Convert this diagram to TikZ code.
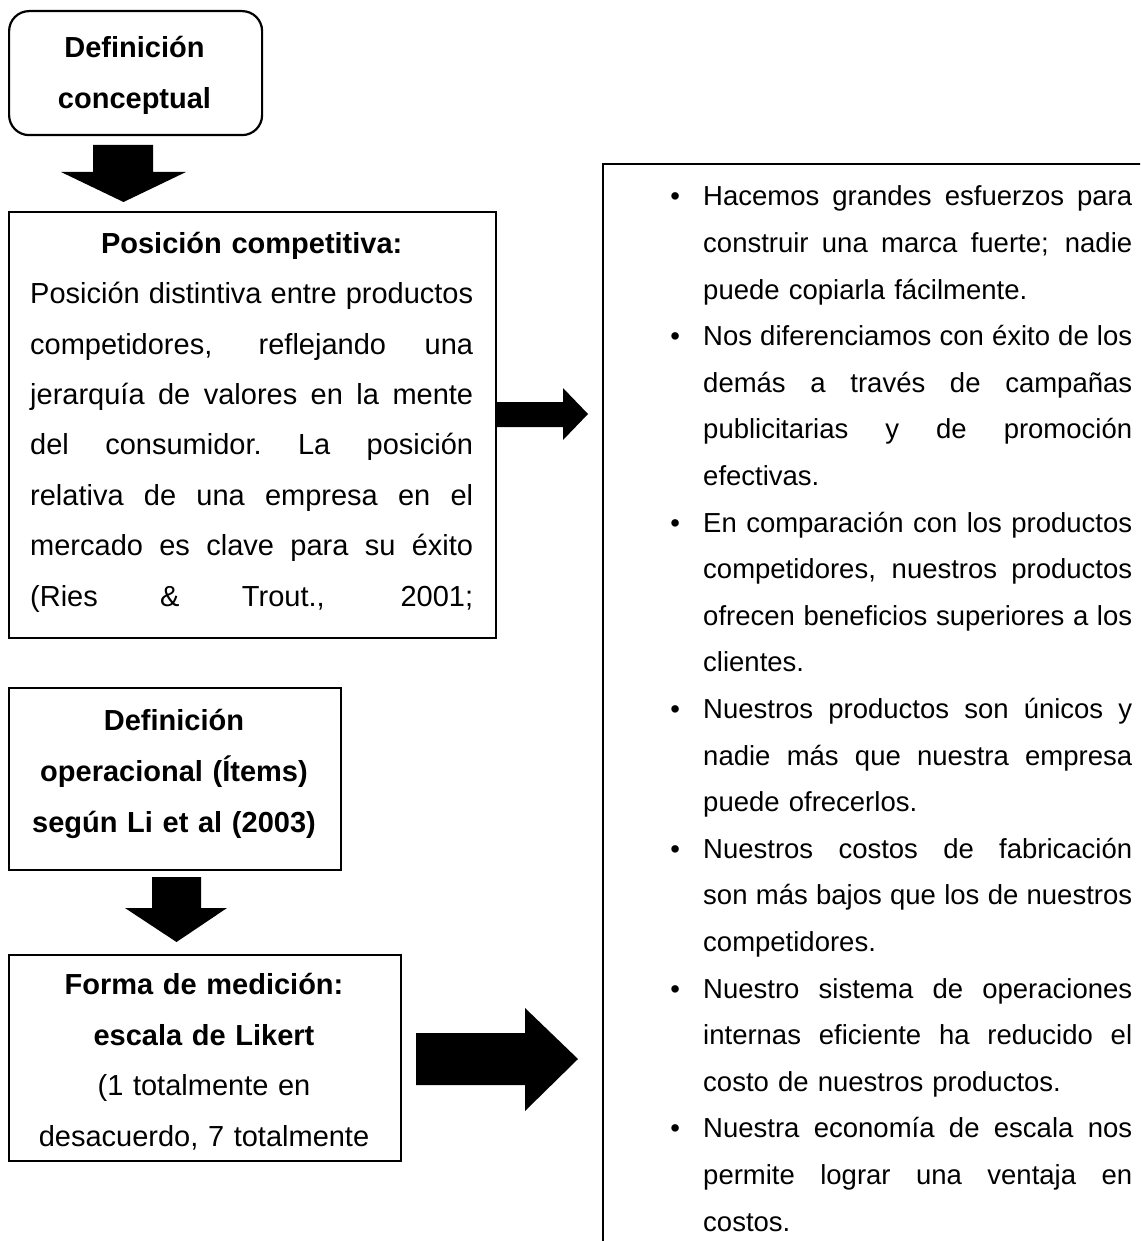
\documentclass[tikz,border=0pt]{standalone}
\usepackage{fontspec}
\setmainfont{Liberation Sans}
\newcommand{\jl}[2]{\leavevmode\hbox to #1{\spaceskip=\fontdimen2\font plus 1fil\relax\xspaceskip=\spaceskip #2}}
\newcommand{\bul}{\leavevmode\llap{\textbullet\hspace{23.2pt}}}
\begin{document}
\begin{tikzpicture}[x=1pt,y={(0pt,-1pt)}]
\tikzset{
  frame/.style={draw=black, line width=2.2pt, inner sep=0pt, anchor=north west},
  txt/.style={inner sep=0pt, anchor=north, align=center},
  para/.style={inner sep=0pt, anchor=north west, align=left},
  blk/.style={fill=black, draw=none}
}
\useasboundingbox (0,0) rectangle (1140,1241);
\clip (0,0) rectangle (1140,1241);

% frames
\node[frame, minimum width=253pt, minimum height=124pt, rounded corners=20pt] (b1) at (8,10) {};
\node[frame, minimum width=487pt, minimum height=426pt] (b2) at (8,211) {};
\node[frame, minimum width=332pt, minimum height=182pt] (b3) at (8,687) {};
\node[frame, minimum width=392pt, minimum height=206pt] (b4) at (8,954) {};
\node[frame, minimum width=620pt, minimum height=1200pt] (b5) at (602,163) {};

% texts
\node[txt, font=\fontsize{29}{51}\selectfont\bfseries, text width=240pt] (t1) at (134.5,21.5)
  {\strut Definición\\conceptual};

\node[para, text width=443pt, font=\fontsize{29}{50.4}\selectfont] (t2) at (30,217.9)
  {\strut\makebox[443pt][c]{\bfseries Posición competitiva:}\\
   \jl{443pt}{Posición distintiva entre productos}\\
   \jl{443pt}{competidores, reflejando una}\\
   \jl{443pt}{jerarquía de valores en la mente}\\
   \jl{443pt}{del consumidor. La posición}\\
   \jl{443pt}{relativa de una empresa en el}\\
   \jl{443pt}{mercado es clave para su éxito}\\
   \jl{443pt}{(Ries \& Trout., 2001;}};

\node[txt, font=\fontsize{29}{51}\selectfont\bfseries, text width=320pt] (t3) at (174,694.5)
  {\strut Definición\\operacional (Ítems)\\según Li et al (2003)};

\node[txt, font=\fontsize{29}{50.5}\selectfont, text width=380pt] (t4) at (204,959.3)
  {\strut\textbf{Forma de medición:}\\\textbf{escala de Likert}\\(1 totalmente en\\desacuerdo, 7 totalmente};

\node[para, text width=429pt, font=\fontsize{27.5}{46.6}\selectfont] (t5) at (703,173)
  {\strut\bul\jl{429pt}{Hacemos grandes esfuerzos para}\\
   \jl{429pt}{construir una marca fuerte; nadie}\\
   puede copiarla fácilmente.\\
   \bul\jl{429pt}{Nos diferenciamos con éxito de los}\\
   \jl{429pt}{demás a través de campañas}\\
   \jl{429pt}{publicitarias y de promoción}\\
   efectivas.\\
   \bul\jl{429pt}{En comparación con los productos}\\
   \jl{429pt}{competidores, nuestros productos}\\
   \jl{429pt}{ofrecen beneficios superiores a los}\\
   clientes.\\
   \bul\jl{429pt}{Nuestros productos son únicos y}\\
   \jl{429pt}{nadie más que nuestra empresa}\\
   puede ofrecerlos.\\
   \bul\jl{429pt}{Nuestros costos de fabricación}\\
   \jl{429pt}{son más bajos que los de nuestros}\\
   competidores.\\
   \bul\jl{429pt}{Nuestro sistema de operaciones}\\
   \jl{429pt}{internas eficiente ha reducido el}\\
   costo de nuestros productos.\\
   \bul\jl{429pt}{Nuestra economía de escala nos}\\
   \jl{429pt}{permite lograr una ventaja en}\\
   costos.};

% block arrows
\fill[blk] (93,145) -- (153,145) -- (153,172) -- (186,172) -- (123.5,202) -- (61,172) -- (93,172) -- cycle;
\fill[blk] (495,402) -- (563,402) -- (563,388) -- (588,414) -- (563,440) -- (563,427) -- (495,427) -- cycle;
\fill[blk] (152,877) -- (201,877) -- (201,908) -- (227,908) -- (176.5,942) -- (125,908) -- (152,908) -- cycle;
\fill[blk] (416,1033) -- (525,1033) -- (525,1008) -- (578,1059) -- (525,1111) -- (525,1085) -- (416,1085) -- cycle;
\end{tikzpicture}
\end{document}
